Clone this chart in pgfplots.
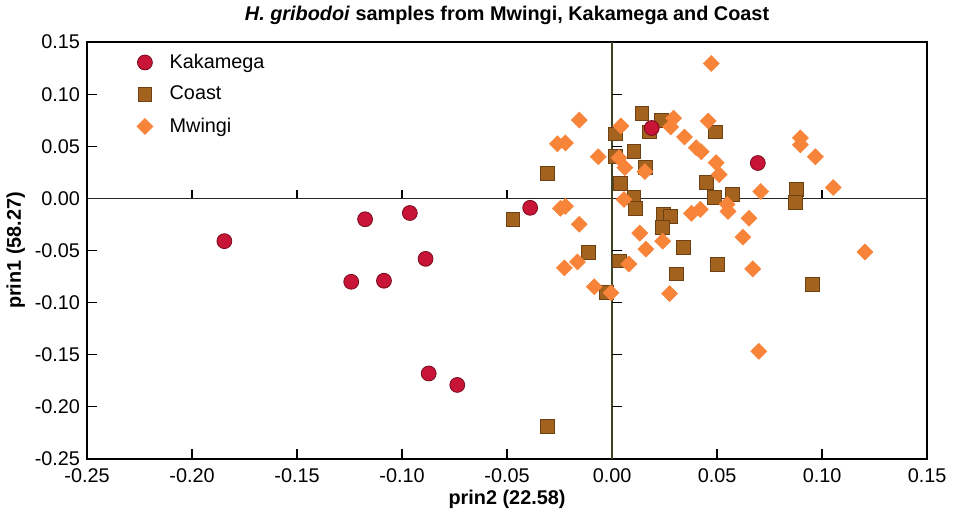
\documentclass[border=0pt]{standalone}
\usepackage{pgfplots}
\usepackage{pgfplotstable}
\pgfplotsset{compat=1.18}
\usepackage{fontspec}
\setmainfont{Liberation Sans}

\definecolor{kakred}{RGB}{200,20,55}
\definecolor{kakedge}{RGB}{120,10,30}
\definecolor{coastbrown}{RGB}{163,98,30}
\definecolor{coastedge}{RGB}{110,65,20}
\definecolor{mworange}{RGB}{248,132,58}
\definecolor{zeroline}{RGB}{60,70,35}

% prin2 (x), prin1 (y)
\pgfplotstableread{
x y
-0.1846 -0.041
-0.1176 -0.020
-0.0963 -0.014
-0.0888 -0.058
-0.1242 -0.080
-0.1086 -0.079
-0.0873 -0.168
-0.0737 -0.179
-0.0390 -0.009
0.0189 0.0676
0.0694 0.034
}\kakamega

\pgfplotstableread{
x y
0.0142 0.0819
0.0236 0.0752
0.0179 0.0638
0.0491 0.0638
0.0014 0.0619
0.0104 0.0448
0.0014 0.0400
0.0160 0.0295
-0.0307 0.0238
0.0038 0.0143
0.0449 0.0152
0.0486 0.0010
0.0571 0.0038
0.0878 0.0086
0.0873 -0.0038
0.0104 0.0010
0.0109 -0.0095
0.0246 -0.0152
0.0279 -0.0171
0.0241 -0.0276
-0.0472 -0.0200
0.0340 -0.0467
-0.0113 -0.0514
0.0033 -0.0600
0.0307 -0.0724
0.0500 -0.0629
0.0954 -0.0829
-0.0028 -0.0905
-0.0307 -0.2190
}\coast

\pgfplotstableread{
x y
0.0472 0.1295
-0.0156 0.0752
-0.0260 0.0524
-0.0222 0.0533
-0.0066 0.0400
0.0042 0.0695
0.0293 0.0771
0.0279 0.0686
0.0458 0.0743
0.0345 0.0590
0.0401 0.0486
0.0425 0.0448
0.0496 0.0343
0.0510 0.0229
0.0897 0.0581
0.0897 0.0514
0.0968 0.0400
0.0708 0.0067
0.1053 0.0105
0.0033 0.0390
0.0061 0.0295
0.0156 0.0257
0.0057 -0.0010
-0.0246 -0.0095
-0.0222 -0.0076
-0.0156 -0.0248
0.0132 -0.0333
0.0161 -0.0486
0.0241 -0.0410
0.0378 -0.0143
0.0420 -0.0105
0.0548 -0.0057
0.0552 -0.0124
0.0652 -0.0190
0.0623 -0.0371
0.1204 -0.0514
-0.0227 -0.0667
-0.0165 -0.0610
-0.0085 -0.0848
-0.0005 -0.0905
0.0080 -0.0629
0.0274 -0.0914
0.0670 -0.0676
0.0699 -0.1467
}\mwingi

\begin{document}
\begin{tikzpicture}
\begin{axis}[
    name=ax,
    scale only axis,
    width=423.25pt,
    height=210pt,
    xmin=-0.25, xmax=0.15,
    ymin=-0.25, ymax=0.15,
    xtick={-0.25,-0.20,...,0.151},
    ytick={-0.25,-0.20,...,0.151},
    xtick pos=bottom,
    ytick pos=left,
    tick align=inside,
    major tick length=5pt,
    axis line style={line width=0.8pt, black},
    tick style={line width=0.6pt, black},
    font=\fontsize{10}{12}\selectfont,
    ticklabel style={font=\fontsize{10}{12}\selectfont},
    xticklabel style={yshift=-1.5pt},
    /pgf/number format/assume math mode=true,
    /pgf/number format/.cd, fixed, fixed zerofill, precision=2,
    /pgfplots/.cd,
    xlabel={\bfseries prin2 (22.58)},
    ylabel={\bfseries prin1 (58.27)},
    title={\bfseries\textit{H. gribodoi} samples from Mwingi, Kakamega and Coast},
    title style={yshift=-1pt},
    xlabel style={yshift=3.5pt},
    ylabel style={yshift=-2pt},
    legend style={draw=none, fill=none, at={(0.052,0.992)}, anchor=north west,
        font=\fontsize{10}{12}\selectfont, row sep=3.5pt,
        /tikz/every odd column/.append style={column sep=6.5pt}},
    legend cell align=left,
    clip=false,
]
\addlegendimage{only marks, mark=*, mark size=3.75pt, mark options={fill=kakred, draw=kakedge}}
\addlegendentry{Kakamega}
\addlegendimage{only marks, mark=square*, mark size=3.5pt, mark options={fill=coastbrown, draw=coastedge}}
\addlegendentry{Coast}
\addlegendimage{only marks, mark=square*, mark size=2.8pt, mark options={rotate=45, fill=mworange, draw=mworange}}
\addlegendentry{Mwingi}

% zero lines with their own ticks
\draw[line width=0.8pt, black!85] (axis cs:-0.25,0) -- (axis cs:0.15,0);
\draw[line width=0.8pt, zeroline] (axis cs:0,-0.25) -- (axis cs:0,0.15);
\pgfplotsinvokeforeach{-0.20,-0.15,-0.10,-0.05,0.05,0.10}{
  \draw[line width=0.6pt] (axis cs:#1,0) -- ++(0pt,4pt);
}
\pgfplotsinvokeforeach{-0.20,-0.15,-0.10,-0.05,0.05,0.10}{
  \draw[line width=0.6pt] (axis cs:0,#1) -- ++(5pt,0pt);
}

\addplot[forget plot, only marks, mark=square*, mark size=3.5pt,
    mark options={fill=coastbrown, draw=coastedge}] table {\coast};
\addplot[forget plot, only marks, mark=square*, mark size=2.8pt,
    mark options={rotate=45, fill=mworange, draw=mworange}] table {\mwingi};
\addplot[forget plot, only marks, mark=*, mark size=3.75pt,
    mark options={fill=kakred, draw=kakedge}] table {\kakamega};
\end{axis}
\path (ax.south west) ++(-42.75pt,-29.75pt) rectangle ++(476.5pt,259.5pt);
\end{tikzpicture}
\end{document}
